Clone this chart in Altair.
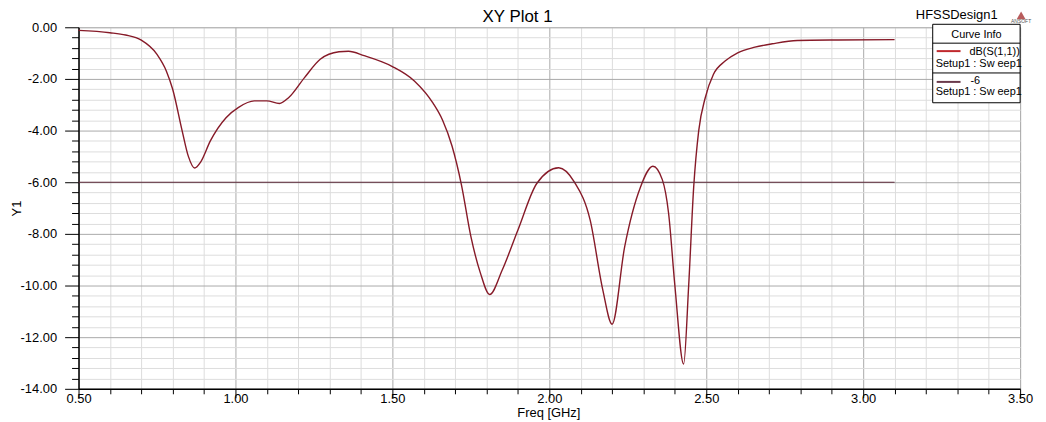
import altair as alt
import pandas as pd

# ---- data ----
FREQ = [0.50, 0.60, 0.65, 0.70, 0.75, 0.78, 0.80, 0.83, 0.85, 0.87, 0.89, 0.92,
        0.97, 1.01, 1.06, 1.10, 1.14, 1.17, 1.22, 1.27, 1.33, 1.36, 1.41, 1.50,
        1.57, 1.63, 1.66, 1.69, 1.72, 1.75, 1.78, 1.81, 1.85, 1.90, 1.96, 2.03,
        2.08, 2.13, 2.17, 2.20, 2.24, 2.29, 2.33, 2.36, 2.38, 2.40, 2.428, 2.444,
        2.46, 2.476, 2.497, 2.523, 2.56, 2.60, 2.655, 2.71, 2.79, 2.92, 3.10]
S11_DB = [-0.12, -0.21, -0.30, -0.50, -1.05, -1.70, -2.40, -4.00, -5.00, -5.45, -5.20, -4.40,
          -3.50, -3.10, -2.85, -2.85, -2.95, -2.72, -1.95, -1.24, -0.95, -0.93, -1.10, -1.52,
          -2.08, -2.95, -3.60, -4.60, -6.10, -8.10, -9.50, -10.35, -9.40, -7.85, -6.05, -5.44,
          -6.00, -7.46, -10.15, -11.50, -8.50, -6.20, -5.38, -5.90, -7.20, -10.00, -13.04, -10.00,
          -6.18, -4.00, -2.72, -1.82, -1.31, -0.99, -0.77, -0.64, -0.51, -0.49, -0.48]
REF_FREQ = [0.50, 3.10]
REF_DB = [-6.0, -6.0]

X_TICKS = [0.5, 0.6, 0.7, 0.8, 0.9, 1.0, 1.1, 1.2, 1.3, 1.4, 1.5, 1.6, 1.7, 1.8, 1.9,
           2.0, 2.1, 2.2, 2.3, 2.4, 2.5, 2.6, 2.7, 2.8, 2.9, 3.0, 3.1, 3.2, 3.3, 3.4, 3.5]
Y_TICKS = [0.0, -0.4, -0.8, -1.2, -1.6, -2.0, -2.4, -2.8, -3.2, -3.6, -4.0, -4.4, -4.8,
           -5.2, -5.6, -6.0, -6.4, -6.8, -7.2, -7.6, -8.0, -8.4, -8.8, -9.2, -9.6, -10.0,
           -10.4, -10.8, -11.2, -11.6, -12.0, -12.4, -12.8, -13.2, -13.6, -14.0]

TITLE = "XY Plot 1"
DESIGN = "HFSSDesign1"
LEGEND_HEADER = "Curve Info"
SERIES_NAMES = ["dB(S(1,1))", "-6"]
SETUP_NAME = "Setup1 : Sw eep1"

W, H = 948, 364
FONT = "Liberation Sans"
CURVE_COLOR = "#861a28"
REF_COLOR = "#5e2a3a"

curve_df = pd.DataFrame({"freq": FREQ, "db": S11_DB})
ref_df = pd.DataFrame({"freq": REF_FREQ, "db": REF_DB})

major_x = "abs(datum.value*2 - round(datum.value*2)) < 0.001"
major_y = "abs(datum.value/2 - round(datum.value/2)) < 0.001"

x_axis = alt.Axis(
    values=X_TICKS, tickCount=100,
    labelExpr=f"({major_x}) ? format(datum.value, '.2f') : ''",
    labelFont=FONT, labelFontSize=13, labelColor="black", labelPadding=-5,
    labelFlush=False, labelOverlap=False,
    tickColor="black",
    tickSize={"condition": {"test": major_x, "value": 9}, "value": 5},
    gridColor={"condition": {"test": major_x, "value": "#a9a9a9"}, "value": "#dddddd"},
    gridWidth=1,
    domainColor="black", domainWidth=1.5,
    title="Freq [GHz]", titleFont=FONT, titleFontSize=13, titleFontWeight="normal",
    titleColor="black", titleX=473, titleY=28, titleBaseline="alphabetic",
)
y_axis = alt.Axis(
    values=Y_TICKS, tickCount=100,
    labelExpr=f"({major_y}) ? ((datum.value < -0.001 ? '-' : '') + format(abs(datum.value), '.2f')) : ''",
    labelFont=FONT, labelFontSize=13, labelColor="black", labelPadding=8,
    labelOverlap=False, labelFlush=False,
    tickColor="black",
    tickSize={"condition": {"test": major_y, "value": 14}, "value": 7},
    gridColor={"condition": {"test": major_y, "value": "#a9a9a9"}, "value": "#dddddd"},
    gridWidth=1,
    domainColor="black", domainWidth=1.5,
    title="Y1", titleFont=FONT, titleFontSize=13, titleFontWeight="normal",
    titleColor="black", titleX=-62, titleY=H / 2, titleAngle=-90,
    titleBaseline="middle", titleAlign="center",
)

x_scale = alt.Scale(domain=[0.5, 3.5], nice=False, zero=False)
y_scale = alt.Scale(domain=[-14, 0], nice=False, zero=False)

curve = alt.Chart(curve_df).mark_line(
    color=CURVE_COLOR, strokeWidth=1.4, interpolate="monotone"
).encode(
    x=alt.X("freq:Q", scale=x_scale, axis=x_axis),
    y=alt.Y("db:Q", scale=y_scale, axis=y_axis),
)

ref = alt.Chart(ref_df).mark_line(color=REF_COLOR, strokeWidth=1.2).encode(
    x=alt.X("freq:Q", scale=x_scale),
    y=alt.Y("db:Q", scale=y_scale),
)

one = pd.DataFrame({"k": [0]})


def text(s, x, y, size=11, align="left", color="black"):
    return alt.Chart(one).mark_text(
        text=s, font=FONT, fontSize=size, align=align, baseline="alphabetic", color=color
    ).encode(x=alt.value(x), y=alt.value(y))


def hrule(x1, x2, y, color="black", width=1.0):
    return alt.Chart(one).mark_rule(color=color, strokeWidth=width).encode(
        x=alt.value(x1), x2=alt.value(x2), y=alt.value(y)
    )


legend_box = alt.Chart(one).mark_rect(fill="white", stroke="black", strokeWidth=1).encode(
    x=alt.value(860), x2=alt.value(948), y=alt.value(-3), y2=alt.value(76)
)

logo = alt.Chart(one).mark_point(
    shape="triangle-up", filled=True, color="#b04a4a", size=80, opacity=0.9
).encode(x=alt.value(949), y=alt.value(-12))

layers = [
    curve,
    ref,
    legend_box,
    text(LEGEND_HEADER, 904, 11, 11, "center"),
    hrule(860, 948, 16),
    hrule(864, 888, 24, "#c0282d", 2),
    text(SERIES_NAMES[0], 897, 28, 11),
    text(SETUP_NAME, 863, 40, 11),
    hrule(860, 948, 46),
    hrule(864, 888, 55, "#6a3a4c", 2),
    text(SERIES_NAMES[1], 898, 57, 11),
    text(SETUP_NAME, 863, 68, 11),
    text(TITLE, 442, -5, 17, "center"),
    text(DESIGN, 843, -8, 13),
    logo,
    text("ANSOFT", 949, -4, 5, "center", "#555555"),
]

chart = alt.layer(*layers).properties(
    width=W, height=H,
    autosize=alt.AutoSizeParams(type="none"),
    padding={"left": 71, "top": 18, "right": 18, "bottom": 32},
).configure_view(stroke="black", strokeWidth=1.5).configure(background="white")

chart.save("out.html", embed_options={"renderer": "svg", "actions": False})
